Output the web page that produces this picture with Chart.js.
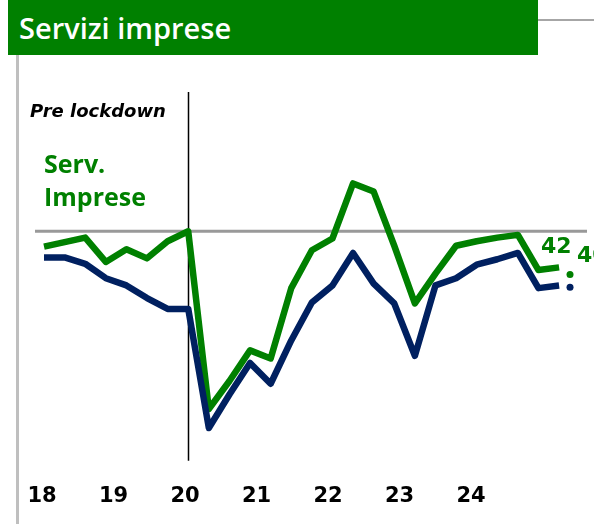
<!DOCTYPE html>
<html>
<head>
<meta charset="utf-8">
<script src="https://cdn.jsdelivr.net/npm/chart.js@4/dist/chart.umd.min.js"></script>
<style>
  body { margin: 0; background: #fff; }
  #wrap { position: relative; width: 594px; height: 524px; overflow: hidden; font-family: 'Open Sans', sans-serif; }
  #chart { position: absolute; left: 0; top: 0; }
  .title { position: absolute; left: 8px; top: 0; width: 530px; height: 55px; background: #008000; color: #fff;
           font-weight: 600; font-size: 29px; line-height: 55px; box-sizing: border-box; padding-left: 11px; }
  .topline { position: absolute; left: 538px; top: 19px; width: 56px; height: 2px; background: #a6a6a6; }
  .leftline { position: absolute; left: 16px; top: 55px; width: 3px; height: 469px; background: #bfbfbf; }
  .pre { position: absolute; left: 30px; top: 100px; font-size: 18px; font-weight: 700; font-style: italic; color: #000;
         font-family: 'DejaVu Sans', sans-serif; }
  .serv { position: absolute; left: 44px; top: 147px; font-size: 25px; font-weight: 700; color: #008000; line-height: 33px; }
  .val { position: absolute; font-size: 22px; font-weight: 700; color: #008000; font-family: 'DejaVu Sans', sans-serif; }
</style>
</head>
<body>
<div id="wrap">
  <canvas id="chart" width="594" height="540"></canvas>
  <div class="title">Servizi imprese</div>
  <div class="topline"></div>
  <div class="leftline"></div>
  <div class="pre">Pre lockdown</div>
  <div class="serv">Serv.<br>Imprese</div>
  <div class="val" style="left:541px; top:233px;">42</div>
  <div class="val" style="left:577px; top:242px;">40</div>
</div>
<script>
// quarterly, 2018 Q1 .. 2024 Q2
const quarters = ['18Q1','18Q2','18Q3','18Q4','19Q1','19Q2','19Q3','19Q4',
  '20Q1','20Q2','20Q3','20Q4','21Q1','21Q2','21Q3','21Q4',
  '22Q1','22Q2','22Q3','22Q4','23Q1','23Q2','23Q3','23Q4','24Q1','24Q2'];
const servImprese = [48.3, 48.8, 49.3, 46.6, 48.0, 47.0, 48.9, 50.0,
  30.3, 33.4, 36.8, 35.9, 43.7, 47.9, 49.2, 55.3,
  54.4, 48.4, 42.0, 45.3, 48.4, 48.9, 49.3, 49.6, 45.7, 46.0];
const totale = [47.1, 47.1, 46.4, 44.8, 44.0, 42.6, 41.4, 41.4,
  28.2, 31.9, 35.4, 33.1, 37.9, 42.1, 44.0, 47.6,
  44.2, 42.0, 36.2, 44.0, 44.8, 46.3, 46.9, 47.6, 43.7, 44.0];
// next-quarter estimates (dots)
const nextGreen = 45.2;
const nextBlue = 43.8;
const yearLabels = ['18', '19', '20', '21', '22', '23', '24'];
const baseline = 50;
const lockdownIndex = 7;

const GREEN = '#008000';
const NAVY = '#002060';

const toPts = arr => arr.map((v, i) => ({ x: i, y: v }));

const refLines = {
  id: 'refLines',
  beforeDatasetsDraw(chart) {
    const { ctx, chartArea, scales } = chart;
    const y = scales.y.getPixelForValue(baseline);
    ctx.save();
    ctx.strokeStyle = '#999999';
    ctx.lineWidth = 3;
    ctx.beginPath();
    ctx.moveTo(chartArea.left + 5, y);
    ctx.lineTo(chartArea.right - 3, y);
    ctx.stroke();
    const x = Math.round(scales.x.getPixelForValue(lockdownIndex)) + 0.5;
    ctx.strokeStyle = '#000';
    ctx.lineWidth = 1.5;
    ctx.beginPath();
    ctx.moveTo(x, chartArea.top);
    ctx.lineTo(x, chartArea.bottom);
    ctx.stroke();
    ctx.restore();
  }
};

new Chart(document.getElementById('chart'), {
  type: 'line',
  data: {
    datasets: [
      { data: toPts(totale), borderColor: NAVY, borderWidth: 6.5, pointRadius: 0, tension: 0, xAxisID: 'x', borderJoinStyle: 'round' },
      { data: toPts(servImprese), borderColor: GREEN, borderWidth: 6.5, pointRadius: 0, tension: 0, xAxisID: 'x', borderJoinStyle: 'round' },
      { data: [{ x: quarters.length - 0.47, y: nextGreen }], showLine: false, pointRadius: 3.5, pointBackgroundColor: GREEN, pointBorderWidth: 0, xAxisID: 'x' },
      { data: [{ x: quarters.length - 0.47, y: nextBlue }], showLine: false, pointRadius: 3.5, pointBackgroundColor: NAVY, pointBorderWidth: 0, xAxisID: 'x' }
    ]
  },
  options: {
    responsive: false,
    animation: false,
    layout: { padding: { left: 30, right: 4, top: 92, bottom: 16 } },
    plugins: { legend: { display: false }, tooltip: { enabled: false } },
    scales: {
      x: { type: 'linear', display: false, min: -0.68, max: 26.5 },
      years: {
        type: 'linear', position: 'bottom', min: 17.832, max: 25.664,
        afterBuildTicks: s => { s.ticks = yearLabels.map(l => ({ value: Number(l) })); },
        grid: { display: false }, border: { display: false },
        ticks: { color: '#000', padding: 15, autoSkip: false, maxRotation: 0,
                 font: { family: 'DejaVu Sans', weight: 'bold', size: 21 },
                 callback: v => String(v) }
      },
      y: { display: false, min: 24.56, max: 65.44 }
    }
  },
  plugins: [refLines]
});
</script>
</body>
</html>
